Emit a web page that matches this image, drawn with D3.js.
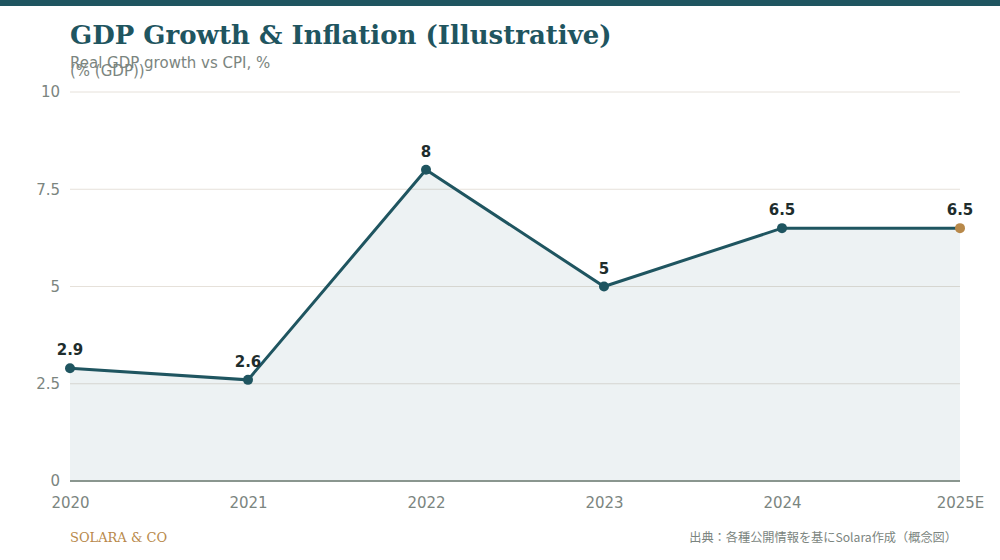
<!DOCTYPE html>
<html>
<head>
<meta charset="utf-8">
<script src="https://cdn.jsdelivr.net/npm/d3@7"></script>
<style>
  body { margin: 0; background: #fff; }
  svg { display: block; }
</style>
</head>
<body>
<div id="chart"></div>
<script>
// data
var years = ["2020", "2021", "2022", "2023", "2024", "2025E"];
var gdp = [2.9, 2.6, 8, 5, 6.5, 6.5];
var yTicks = [0, 2.5, 5, 7.5, 10];
var yTickLabels = ["0", "2.5", "5", "7.5", "10"];

var svgWidth = 1000;
var svgHeight = 560;
var margin = { top: 92, right: 40, bottom: 79, left: 70 };
var width = svgWidth - margin.left - margin.right;
var height = svgHeight - margin.top - margin.bottom;

var teal = "#1f5560";
var gold = "#b8894a";
var grey = "#7b8580";

var svg = d3.select("#chart")
  .append("svg")
  .attr("width", svgWidth)
  .attr("height", svgHeight);

// top band
svg.append("rect")
  .attr("x", 0).attr("y", 0)
  .attr("width", svgWidth).attr("height", 6)
  .attr("fill", teal);

svg.append("text")
  .attr("x", 70).attr("y", 44)
  .attr("font-family", "DejaVu Serif")
  .attr("font-weight", "bold")
  .attr("font-size", 26)
  .attr("fill", teal)
  .text("GDP Growth & Inflation (Illustrative)");

svg.append("text")
  .attr("x", 70).attr("y", 68)
  .attr("font-family", "DejaVu Sans")
  .attr("font-size", 15)
  .attr("fill", grey)
  .text("Real GDP growth vs CPI, %");

svg.append("text")
  .attr("x", 70).attr("y", 76)
  .attr("font-family", "DejaVu Sans")
  .attr("font-size", 15)
  .attr("fill", grey)
  .text("(% (GDP))");

var chartGroup = svg.append("g")
  .attr("transform", `translate(${margin.left}, ${margin.top})`);

var x = d3.scalePoint()
  .domain(years)
  .range([0, width]);

var y = d3.scaleLinear()
  .domain([0, 10])
  .range([height, 0]);

// gridlines
chartGroup.selectAll(".grid")
  .data(yTicks.filter(d => d > 0))
  .enter()
  .append("line")
    .attr("x1", 0).attr("x2", width)
    .attr("y1", d => y(d)).attr("y2", d => y(d))
    .attr("stroke", "#e6e1da")
    .attr("stroke-width", 1);

// y axis labels
var leftAxis = d3.axisLeft(y)
  .tickValues(yTicks)
  .tickFormat((d, i) => yTickLabels[i])
  .tickSize(0)
  .tickPadding(10);

var yAxis = chartGroup.append("g").call(leftAxis);
yAxis.select(".domain").remove();
yAxis.selectAll("text")
  .attr("font-family", "DejaVu Sans")
  .attr("font-size", 15)
  .attr("fill", grey);

// area + line
var area = d3.area()
  .x((d, i) => x(years[i]))
  .y0(y(0))
  .y1(d => y(d));

chartGroup.append("path")
  .datum(gdp)
  .attr("d", area)
  .attr("fill", teal)
  .attr("fill-opacity", 0.08);

// baseline
chartGroup.append("line")
  .attr("x1", 0).attr("x2", width)
  .attr("y1", y(0)).attr("y2", y(0))
  .attr("stroke", "#8a968f")
  .attr("stroke-width", 2);

var line = d3.line()
  .x((d, i) => x(years[i]))
  .y(d => y(d));

chartGroup.append("path")
  .datum(gdp)
  .attr("d", line)
  .attr("fill", "none")
  .attr("stroke", teal)
  .attr("stroke-width", 3);

chartGroup.selectAll(".dot")
  .data(gdp)
  .enter()
  .append("circle")
    .attr("cx", (d, i) => x(years[i]))
    .attr("cy", d => y(d))
    .attr("r", 5)
    .attr("fill", (d, i) => i === gdp.length - 1 ? gold : teal);

chartGroup.selectAll(".val")
  .data(gdp)
  .enter()
  .append("text")
    .attr("x", (d, i) => x(years[i]))
    .attr("y", d => y(d) - 13)
    .attr("text-anchor", "middle")
    .attr("font-family", "DejaVu Sans")
    .attr("font-weight", "bold")
    .attr("font-size", 15)
    .attr("fill", "#1e2d2d")
    .text(d => d);

// x axis labels
var bottomAxis = d3.axisBottom(x).tickSize(0).tickPadding(16);
var xAxis = chartGroup.append("g")
  .attr("transform", `translate(0, ${height})`)
  .call(bottomAxis);
xAxis.select(".domain").remove();
xAxis.selectAll("text")
  .attr("font-family", "DejaVu Sans")
  .attr("font-size", 15)
  .attr("fill", grey);

// footer
svg.append("text")
  .attr("x", 70).attr("y", 542)
  .attr("font-family", "DejaVu Serif")
  .attr("font-size", 13)
  .attr("fill", gold)
  .text("SOLARA & CO");

svg.append("text")
  .attr("x", 957).attr("y", 542)
  .attr("text-anchor", "end")
  .attr("font-family", "Noto Sans CJK JP")
  .attr("font-size", 12.2)
  .attr("fill", grey)
  .text("出典：各種公開情報を基にSolara作成（概念図）");
</script>
</body>
</html>
